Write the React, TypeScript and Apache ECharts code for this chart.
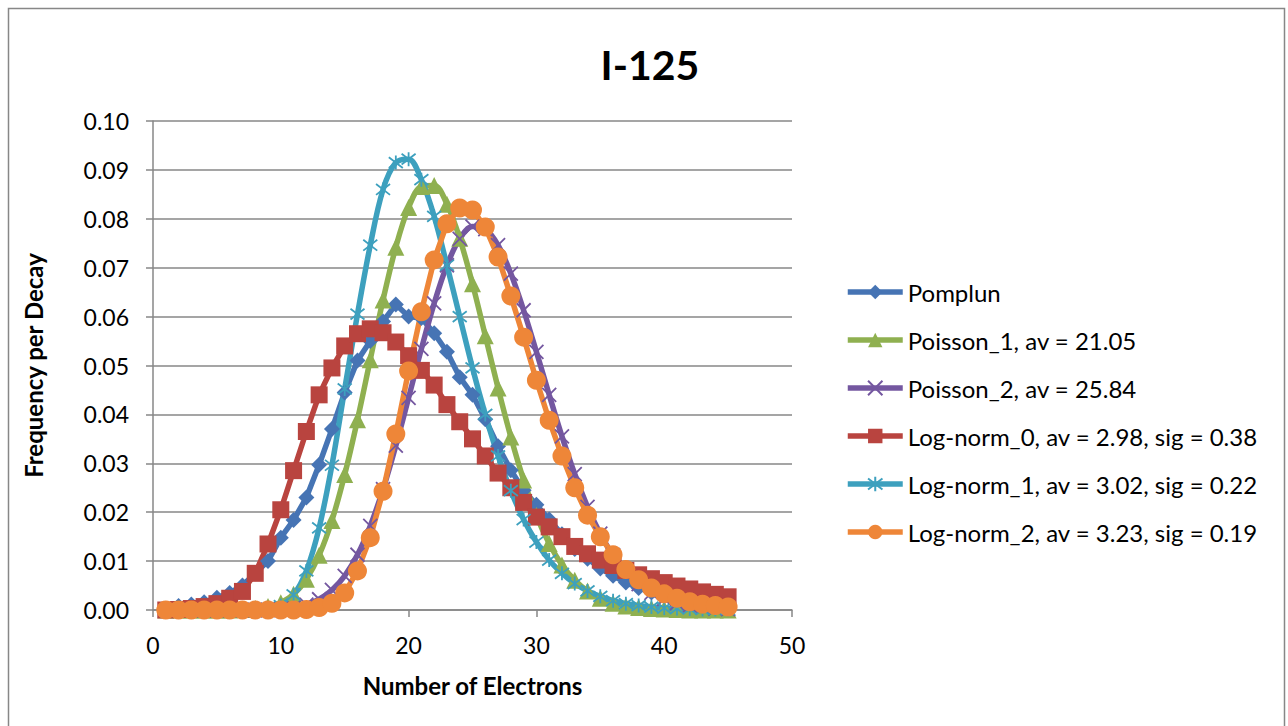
import React, { useEffect, useRef } from "react";
import * as echarts from "echarts";

const electrons = [1,2,3,4,5,6,7,8,9,10,11,12,13,14,15,16,17,18,19,20,21,22,23,24,25,26,27,28,29,30,31,32,33,34,35,36,37,38,39,40,41,42,43,44,45];

const pomplun = [0.0002,0.0008,0.0011,0.0016,0.0025,0.0035,0.005,0.0075,0.0100,0.0148,0.0184,0.023,0.0297,0.037,0.0445,0.051,0.055,0.059,0.0625,0.060,0.0597,0.0566,0.0528,0.0476,0.044,0.039,0.0335,0.0286,0.0245,0.0215,0.0185,0.0155,0.0125,0.0105,0.0085,0.007,0.0056,0.0045,0.0036,0.0028,0.0021,0.0016,0.0012,0.0009,0.0006];

const poisson1 = [0,0,0,0,0,0,0.0001,0.0003,0.0007,0.0015,0.0032,0.0063,0.0112,0.0183,0.0277,0.0389,0.0512,0.0634,0.0742,0.0823,0.0866,0.0868,0.0830,0.0760,0.0667,0.0561,0.0454,0.0354,0.0266,0.0193,0.0136,0.0092,0.0061,0.0039,0.0024,0.0014,0.0008,0.0005,0.0003,0.0002,0.0001,0,0,0,0];

const poisson2 = [0,0,0,0,0,0,0,0,0,0.0002,0.0005,0.0011,0.0022,0.0041,0.0070,0.0113,0.0172,0.0247,0.0336,0.0434,0.0534,0.0627,0.0705,0.0759,0.0784,0.0779,0.0746,0.0688,0.0613,0.0528,0.0440,0.0355,0.0278,0.0211,0.0156,0.0112,0.0078,0.0053,0.0035,0.0023,0.0014,0.0009,0.0005,0.0003,0.0002];

const logNorm0 = [0,0.0001,0.0003,0.0007,0.0013,0.0024,0.0038,0.0075,0.0135,0.0205,0.0285,0.0365,0.044,0.0495,0.054,0.0565,0.0575,0.0567,0.0548,0.052,0.049,0.046,0.042,0.0385,0.035,0.0315,0.028,0.025,0.022,0.019,0.017,0.015,0.013,0.0115,0.0102,0.0091,0.0081,0.0072,0.0064,0.0056,0.0049,0.0043,0.0037,0.0032,0.0027];

const logNorm1 = [0,0,0,0,0,0,0,0,0.0002,0.0009,0.0031,0.008,0.0168,0.0296,0.0452,0.0605,0.0746,0.0860,0.0915,0.0922,0.0880,0.0805,0.0705,0.0600,0.0495,0.0400,0.0315,0.0244,0.0185,0.0139,0.0102,0.0075,0.0054,0.0039,0.0028,0.0019,0.0013,0.0009,0.0006,0.0004,0.0003,0.0002,0.0001,0.0001,0.0001];

const logNorm2 = [0,0,0,0,0,0,0,0,0,0,0,0.0001,0.0005,0.0014,0.0035,0.008,0.0148,0.0243,0.036,0.0489,0.061,0.0716,0.079,0.0822,0.0818,0.0783,0.0722,0.0642,0.0558,0.047,0.0388,0.0315,0.025,0.0194,0.015,0.0113,0.0083,0.0062,0.0045,0.0033,0.0024,0.0017,0.0012,0.0009,0.0006];

const seriesNames = [
  "Pomplun",
  "Poisson_1, av = 21.05",
  "Poisson_2, av = 25.84",
  "Log-norm_0, av = 2.98, sig = 0.38",
  "Log-norm_1, av = 3.02, sig = 0.22",
  "Log-norm_2, av = 3.23, sig = 0.19",
];

const xTicks = { min: 0, max: 50, interval: 10 };
const yTicks = { min: 0, max: 0.1, interval: 0.01 };

const FONT = "Lato, 'Open Sans', sans-serif";
const GRAY = "#878787";

export default function App() {
  const ref = useRef<HTMLDivElement>(null);
  useEffect(() => {
    document.body.style.margin = "0";
    const chart = echarts.init(ref.current!, null, { renderer: "svg" });
    const pair = (vals: number[]) => electrons.map((x, i) => [x, vals[i]]);
    const cross = "path://M0,0 L10,10 M10,0 L0,10";
    const star = "path://M0,0 L10,10 M10,0 L0,10 M5,-1.5 L5,11.5";
    const mk = (
      name: string,
      vals: number[],
      color: string,
      symbol: string,
      size: number,
      smooth: boolean,
      stroke?: boolean
    ) => ({
      name,
      type: "line",
      data: pair(vals),
      smooth: smooth ? 0.35 : false,
      symbol,
      symbolSize: size,
      showSymbol: true,
      lineStyle: { color, width: 5.5 },
      itemStyle: stroke
        ? { color: "rgba(0,0,0,0)", borderColor: color, borderWidth: 1.8 }
        : { color, borderWidth: 0 },
      emphasis: { disabled: true },
    });
    const option = {
      animation: false,
      backgroundColor: "#ffffff",
      textStyle: { fontFamily: FONT },
      title: {
        text: "I-125",
        left: 645,
        top: 39,
        textAlign: "center",
        textStyle: { fontFamily: FONT, fontSize: 41, fontWeight: "bold", color: "#000" },
      },
      graphic: [
        {
          type: "rect",
          shape: { x: 8.5, y: 8.5, width: 1276, height: 740 },
          style: { fill: "none", stroke: GRAY, lineWidth: 1.5 },
          silent: true,
        },
      ],
      legend: {
        orient: "vertical",
        left: 840,
        top: 274,
        itemWidth: 55,
        itemHeight: 18,
        itemGap: 22,
        data: seriesNames,
        lineStyle: { width: 5.5 },
        textStyle: { fontFamily: FONT, fontSize: 24, color: "#000", lineHeight: 26 },
        selectedMode: false,
      },
      grid: { left: 153, right: 496, top: 121, bottom: 116, containLabel: false },
      xAxis: {
        type: "value",
        min: xTicks.min,
        max: xTicks.max,
        interval: xTicks.interval,
        name: "Number of Electrons",
        nameLocation: "middle",
        nameGap: 63,
        nameTextStyle: { fontFamily: FONT, fontSize: 24, fontWeight: "bold", color: "#000" },
        axisLine: { show: true, lineStyle: { color: GRAY, width: 1.5 } },
        axisTick: { show: true, length: 7, lineStyle: { color: GRAY, width: 1.5 } },
        axisLabel: { fontFamily: FONT, fontSize: 23, color: "#000", margin: 23 },
        splitLine: { show: false },
      },
      yAxis: {
        type: "value",
        min: yTicks.min,
        max: yTicks.max,
        interval: yTicks.interval,
        name: "Frequency per Decay",
        nameLocation: "middle",
        nameGap: 108,
        nameTextStyle: { fontFamily: FONT, fontSize: 24, fontWeight: "bold", color: "#000" },
        axisLine: { show: true, lineStyle: { color: GRAY, width: 1.5 } },
        axisTick: { show: true, length: 7, lineStyle: { color: GRAY, width: 1.5 } },
        axisLabel: {
          fontFamily: FONT,
          fontSize: 23,
          color: "#000",
          margin: 24,
          formatter: (v: number) => v.toFixed(2),
        },
        splitLine: { show: true, lineStyle: { color: GRAY, width: 1.5 } },
      },
      series: [
        mk(seriesNames[0], pomplun, "#4674B4", "diamond", 16, false),
        mk(seriesNames[1], poisson1, "#8FB050", "triangle", 17, true),
        mk(seriesNames[2], poisson2, "#7457A0", cross, 14, true, true),
        mk(seriesNames[3], logNorm0, "#B9443F", "rect", 17, false),
        mk(seriesNames[4], logNorm1, "#3DA0BE", star, 14, true, true),
        mk(seriesNames[5], logNorm2, "#EE8638", "circle", 19, false),
      ],
    };
    chart.setOption(option as any);
    return () => chart.dispose();
  }, []);
  return <div ref={ref} style={{ width: 1288, height: 726 }} />;
}
